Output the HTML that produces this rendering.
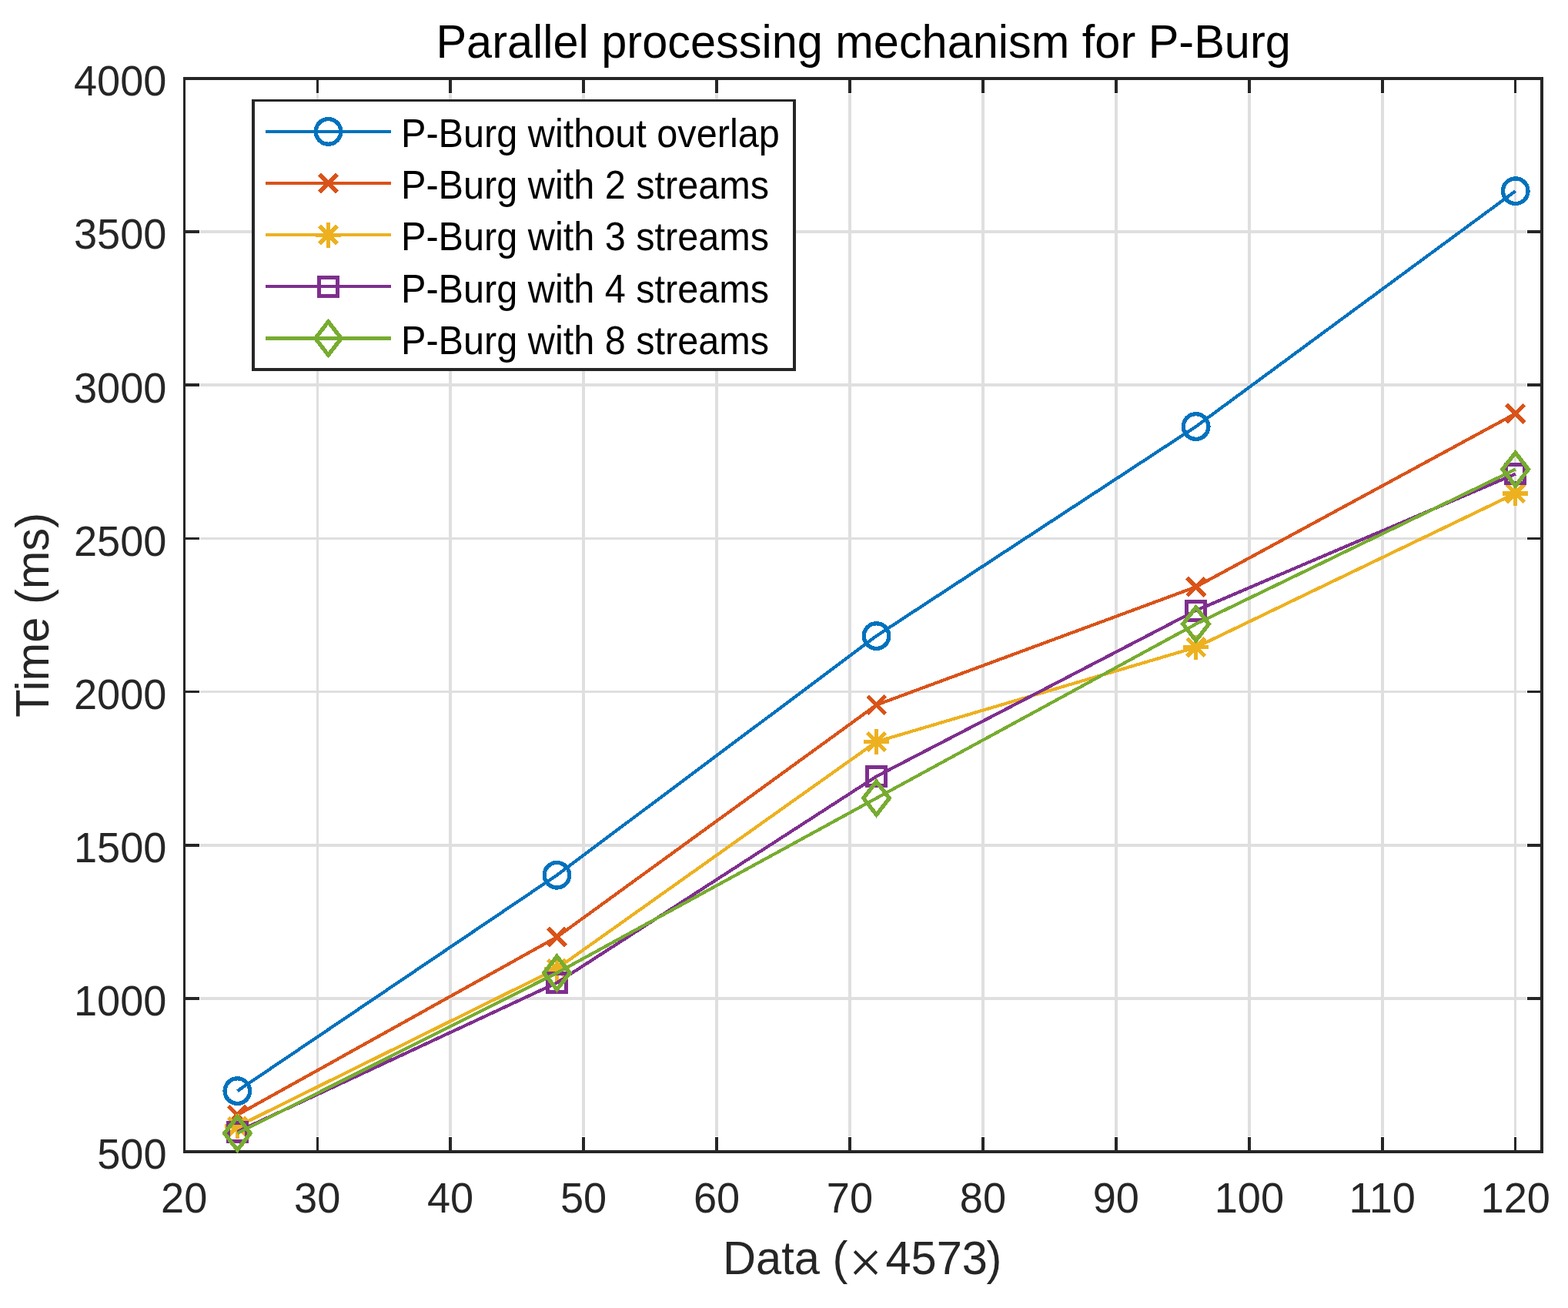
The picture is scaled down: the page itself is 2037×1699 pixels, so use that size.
<!DOCTYPE html>
<html lang="en"><head><meta charset="utf-8">
<title>Parallel processing mechanism for P-Burg</title>
<style>
html,body{margin:0;padding:0;background:#fff;}
body{width:2037px;height:1699px;overflow:hidden;}
svg{display:block;}
text{font-family:"Liberation Sans",sans-serif;}
.tk{font-size:54.17px;fill:#262626;}
.lb{font-size:59.58px;fill:#262626;}
.tt{font-size:59.58px;fill:#000;}
.lg{font-size:48.75px;fill:#000;}
.mul{font-family:"Liberation Serif",serif;font-size:77px;}
</style></head><body>
<svg width="2037" height="1699" viewBox="0 0 2037 1699">
<rect x="0" y="0" width="2037" height="1699" fill="#fff"/>
<g fill="#dfdfdf" shape-rendering="crispEdges">
<rect x="411" y="122" width="3" height="1354"/>
<rect x="583" y="122" width="4" height="1354"/>
<rect x="756" y="122" width="4" height="1354"/>
<rect x="929" y="122" width="4" height="1354"/>
<rect x="1102" y="122" width="4" height="1354"/>
<rect x="1275" y="122" width="4" height="1354"/>
<rect x="1448" y="122" width="4" height="1354"/>
<rect x="1621" y="122" width="4" height="1354"/>
<rect x="1794" y="122" width="4" height="1354"/>
<rect x="1967" y="122" width="3" height="1354"/>
<rect x="260" y="299" width="1723" height="4"/>
<rect x="260" y="498" width="1723" height="4"/>
<rect x="260" y="698" width="1723" height="3"/>
<rect x="260" y="897" width="1723" height="3"/>
<rect x="260" y="1096" width="1723" height="4"/>
<rect x="260" y="1295" width="1723" height="4"/>
</g>
<g fill="#262626" shape-rendering="crispEdges">
<rect x="411" y="100" width="3" height="21"/>
<rect x="411" y="1477" width="3" height="21"/>
<rect x="583" y="100" width="4" height="21"/>
<rect x="583" y="1477" width="4" height="21"/>
<rect x="756" y="100" width="4" height="21"/>
<rect x="756" y="1477" width="4" height="21"/>
<rect x="929" y="100" width="4" height="21"/>
<rect x="929" y="1477" width="4" height="21"/>
<rect x="1102" y="100" width="4" height="21"/>
<rect x="1102" y="1477" width="4" height="21"/>
<rect x="1275" y="100" width="4" height="21"/>
<rect x="1275" y="1477" width="4" height="21"/>
<rect x="1448" y="100" width="4" height="21"/>
<rect x="1448" y="1477" width="4" height="21"/>
<rect x="1621" y="100" width="4" height="21"/>
<rect x="1621" y="1477" width="4" height="21"/>
<rect x="1794" y="100" width="4" height="21"/>
<rect x="1794" y="1477" width="4" height="21"/>
<rect x="1967" y="100" width="3" height="21"/>
<rect x="1967" y="1477" width="3" height="21"/>
<rect x="238" y="299" width="21" height="4"/>
<rect x="1984" y="299" width="21" height="4"/>
<rect x="238" y="498" width="21" height="4"/>
<rect x="1984" y="498" width="21" height="4"/>
<rect x="238" y="698" width="21" height="3"/>
<rect x="1984" y="698" width="21" height="3"/>
<rect x="238" y="897" width="21" height="3"/>
<rect x="1984" y="897" width="21" height="3"/>
<rect x="238" y="1096" width="21" height="4"/>
<rect x="1984" y="1096" width="21" height="4"/>
<rect x="238" y="1295" width="21" height="4"/>
<rect x="1984" y="1295" width="21" height="4"/>
<rect x="238" y="100" width="1767" height="4"/>
<rect x="238" y="1494" width="1767" height="4"/>
<rect x="238" y="100" width="3" height="1398"/>
<rect x="2001" y="100" width="4" height="1398"/>
</g>
<g shape-rendering="crispEdges">
<polyline points="308.38,1417.14 723.46,1136.75 1138.55,826.08 1553.63,554.05 1968.71,248.17" fill="none" stroke="#0072BD" stroke-width="4.17" stroke-linejoin="round"/>
<circle cx="308.38" cy="1417.14" r="16.3" fill="none" stroke="#0072BD" stroke-width="5.3"/>
<circle cx="723.46" cy="1136.75" r="16.3" fill="none" stroke="#0072BD" stroke-width="5.3"/>
<circle cx="1138.55" cy="826.08" r="16.3" fill="none" stroke="#0072BD" stroke-width="5.3"/>
<circle cx="1553.63" cy="554.05" r="16.3" fill="none" stroke="#0072BD" stroke-width="5.3"/>
<circle cx="1968.71" cy="248.17" r="16.3" fill="none" stroke="#0072BD" stroke-width="5.3"/>
</g>
<g shape-rendering="crispEdges">
<polyline points="308.38,1448.21 723.46,1217.2 1138.55,915.7 1553.63,762.36 1968.71,537.33" fill="none" stroke="#D95319" stroke-width="4.17" stroke-linejoin="round"/>
<path d="M296.78 1436.61L319.98 1459.81M296.78 1459.81L319.98 1436.61" fill="none" stroke="#D95319" stroke-width="5.3"/>
<path d="M711.86 1205.6L735.06 1228.8M711.86 1228.8L735.06 1205.6" fill="none" stroke="#D95319" stroke-width="5.3"/>
<path d="M1126.95 904.1L1150.15 927.3M1126.95 927.3L1150.15 904.1" fill="none" stroke="#D95319" stroke-width="5.3"/>
<path d="M1542.03 750.76L1565.23 773.96M1542.03 773.96L1565.23 750.76" fill="none" stroke="#D95319" stroke-width="5.3"/>
<path d="M1957.11 525.73L1980.31 548.93M1957.11 548.93L1980.31 525.73" fill="none" stroke="#D95319" stroke-width="5.3"/>
</g>
<g shape-rendering="crispEdges">
<polyline points="308.38,1463.14 723.46,1258.22 1138.55,963.49 1553.63,840.82 1968.71,640.88" fill="none" stroke="#EDB120" stroke-width="4.17" stroke-linejoin="round"/>
<path d="M296.78 1451.54L319.98 1474.74M296.78 1474.74L319.98 1451.54M292.08 1463.14L324.68 1463.14M308.38 1446.84L308.38 1479.44" fill="none" stroke="#EDB120" stroke-width="5.3"/>
<path d="M711.86 1246.62L735.06 1269.82M711.86 1269.82L735.06 1246.62M707.16 1258.22L739.76 1258.22M723.46 1241.92L723.46 1274.52" fill="none" stroke="#EDB120" stroke-width="5.3"/>
<path d="M1126.95 951.89L1150.15 975.09M1126.95 975.09L1150.15 951.89M1122.25 963.49L1154.85 963.49M1138.55 947.19L1138.55 979.79" fill="none" stroke="#EDB120" stroke-width="5.3"/>
<path d="M1542.03 829.22L1565.23 852.42M1542.03 852.42L1565.23 829.22M1537.33 840.82L1569.93 840.82M1553.63 824.52L1553.63 857.12" fill="none" stroke="#EDB120" stroke-width="5.3"/>
<path d="M1957.11 629.28L1980.31 652.48M1957.11 652.48L1980.31 629.28M1952.41 640.88L1985.01 640.88M1968.71 624.58L1968.71 657.18" fill="none" stroke="#EDB120" stroke-width="5.3"/>
</g>
<g shape-rendering="crispEdges">
<polyline points="308.38,1470.11 723.46,1276.54 1138.55,1008.5 1553.63,793.03 1968.71,615.59" fill="none" stroke="#7E2F8E" stroke-width="4.17" stroke-linejoin="round"/>
<rect x="296.5" y="1458.5" width="24" height="24" fill="none" stroke="#7E2F8E" stroke-width="5"/>
<rect x="711.5" y="1264.5" width="24" height="24" fill="none" stroke="#7E2F8E" stroke-width="5"/>
<rect x="1126.5" y="996.5" width="24" height="24" fill="none" stroke="#7E2F8E" stroke-width="5"/>
<rect x="1541.5" y="781.5" width="24" height="24" fill="none" stroke="#7E2F8E" stroke-width="5"/>
<rect x="1956.5" y="603.5" width="24" height="24" fill="none" stroke="#7E2F8E" stroke-width="5"/>
</g>
<g shape-rendering="crispEdges">
<polyline points="308.38,1472.1 723.46,1263.8 1138.55,1036.78 1553.63,810.55 1968.71,609.62" fill="none" stroke="#77AC30" stroke-width="4.17" stroke-linejoin="round"/>
<path d="M308.38 1450.5L325.18 1472.1L308.38 1493.7L291.58 1472.1Z" stroke-linejoin="miter" stroke-miterlimit="10" fill="none" stroke="#77AC30" stroke-width="5.3"/>
<path d="M723.46 1242.2L740.26 1263.8L723.46 1285.4L706.66 1263.8Z" stroke-linejoin="miter" stroke-miterlimit="10" fill="none" stroke="#77AC30" stroke-width="5.3"/>
<path d="M1138.55 1015.18L1155.35 1036.78L1138.55 1058.38L1121.75 1036.78Z" stroke-linejoin="miter" stroke-miterlimit="10" fill="none" stroke="#77AC30" stroke-width="5.3"/>
<path d="M1553.63 788.95L1570.43 810.55L1553.63 832.15L1536.83 810.55Z" stroke-linejoin="miter" stroke-miterlimit="10" fill="none" stroke="#77AC30" stroke-width="5.3"/>
<path d="M1968.71 588.02L1985.51 609.62L1968.71 631.22L1951.91 609.62Z" stroke-linejoin="miter" stroke-miterlimit="10" fill="none" stroke="#77AC30" stroke-width="5.3"/>
</g>
<g shape-rendering="crispEdges">
<rect x="327" y="129" width="707" height="353" fill="#262626"/>
<rect x="331" y="132" width="699" height="346" fill="#fff"/>
</g>
<g shape-rendering="crispEdges">
<line x1="345" y1="170.9" x2="508" y2="170.9" stroke="#0072BD" stroke-width="4.17"/>
<circle cx="426.5" cy="170.9" r="16.3" fill="none" stroke="#0072BD" stroke-width="5.3"/>
</g>
<text class="lg" transform="translate(521 191) scale(0.9975 1.045)">P-Burg without overlap</text>
<g shape-rendering="crispEdges">
<line x1="345" y1="238.05" x2="508" y2="238.05" stroke="#D95319" stroke-width="4.17"/>
<path d="M414.9 226.45L438.1 249.65M414.9 249.65L438.1 226.45" fill="none" stroke="#D95319" stroke-width="5.3"/>
</g>
<text class="lg" transform="translate(521 258) scale(0.9975 1.045)">P-Burg with 2 streams</text>
<g shape-rendering="crispEdges">
<line x1="345" y1="305.2" x2="508" y2="305.2" stroke="#EDB120" stroke-width="4.17"/>
<path d="M414.9 293.6L438.1 316.8M414.9 316.8L438.1 293.6M410.2 305.2L442.8 305.2M426.5 288.9L426.5 321.5" fill="none" stroke="#EDB120" stroke-width="5.3"/>
</g>
<text class="lg" transform="translate(521 325) scale(0.9975 1.045)">P-Burg with 3 streams</text>
<g shape-rendering="crispEdges">
<line x1="345" y1="372.35" x2="508" y2="372.35" stroke="#7E2F8E" stroke-width="4.17"/>
<rect x="414.5" y="360.5" width="24" height="24" fill="none" stroke="#7E2F8E" stroke-width="5"/>
</g>
<text class="lg" transform="translate(521 393) scale(0.9975 1.045)">P-Burg with 4 streams</text>
<g shape-rendering="crispEdges">
<line x1="345" y1="439.5" x2="508" y2="439.5" stroke="#77AC30" stroke-width="4.17"/>
<path d="M426.5 417.9L443.3 439.5L426.5 461.1L409.7 439.5Z" stroke-linejoin="miter" stroke-miterlimit="10" fill="none" stroke="#77AC30" stroke-width="5.3"/>
</g>
<text class="lg" transform="translate(521 460) scale(0.9975 1.045)">P-Burg with 8 streams</text>
<text class="tk" transform="translate(239.2 1575) scale(1 1.017)" text-anchor="middle">20</text>
<text class="tk" transform="translate(412.15 1575) scale(1 1.017)" text-anchor="middle">30</text>
<text class="tk" transform="translate(585.1 1575) scale(1 1.017)" text-anchor="middle">40</text>
<text class="tk" transform="translate(758.05 1575) scale(1 1.017)" text-anchor="middle">50</text>
<text class="tk" transform="translate(931 1575) scale(1 1.017)" text-anchor="middle">60</text>
<text class="tk" transform="translate(1103.95 1575) scale(1 1.017)" text-anchor="middle">70</text>
<text class="tk" transform="translate(1276.91 1575) scale(1 1.017)" text-anchor="middle">80</text>
<text class="tk" transform="translate(1449.86 1575) scale(1 1.017)" text-anchor="middle">90</text>
<text class="tk" transform="translate(1622.81 1575) scale(1 1.017)" text-anchor="middle">100</text>
<text class="tk" transform="translate(1795.76 1575) scale(1 1.017)" text-anchor="middle">110</text>
<text class="tk" transform="translate(1968.71 1575) scale(1 1.017)" text-anchor="middle">120</text>
<text class="tk" transform="translate(216.5 1518) scale(1 1.017)" text-anchor="end">500</text>
<text class="tk" transform="translate(216.5 1319) scale(1 1.017)" text-anchor="end">1000</text>
<text class="tk" transform="translate(216.5 1120) scale(1 1.017)" text-anchor="end">1500</text>
<text class="tk" transform="translate(216.5 921) scale(1 1.017)" text-anchor="end">2000</text>
<text class="tk" transform="translate(216.5 722) scale(1 1.017)" text-anchor="end">2500</text>
<text class="tk" transform="translate(216.5 523) scale(1 1.017)" text-anchor="end">3000</text>
<text class="tk" transform="translate(216.5 323) scale(1 1.017)" text-anchor="end">3500</text>
<text class="tk" transform="translate(216.5 124) scale(1 1.017)" text-anchor="end">4000</text>
<text class="tt" transform="translate(1121.6 75) scale(0.998 1.04)" text-anchor="middle">Parallel processing mechanism for P-Burg</text>
<text class="lb" transform="translate(0 1655) scale(1 1.03)"><tspan x="939">Data (</tspan><tspan class="mul" x="1102.7" dy="10.6">×</tspan><tspan x="1150.4" dy="-10.6">4573</tspan><tspan x="1281.6">)</tspan></text>
<text class="lb" transform="translate(63 798.9) rotate(-90) scale(1 1.03)" text-anchor="middle">Time (ms)</text>
</svg>
</body></html>
